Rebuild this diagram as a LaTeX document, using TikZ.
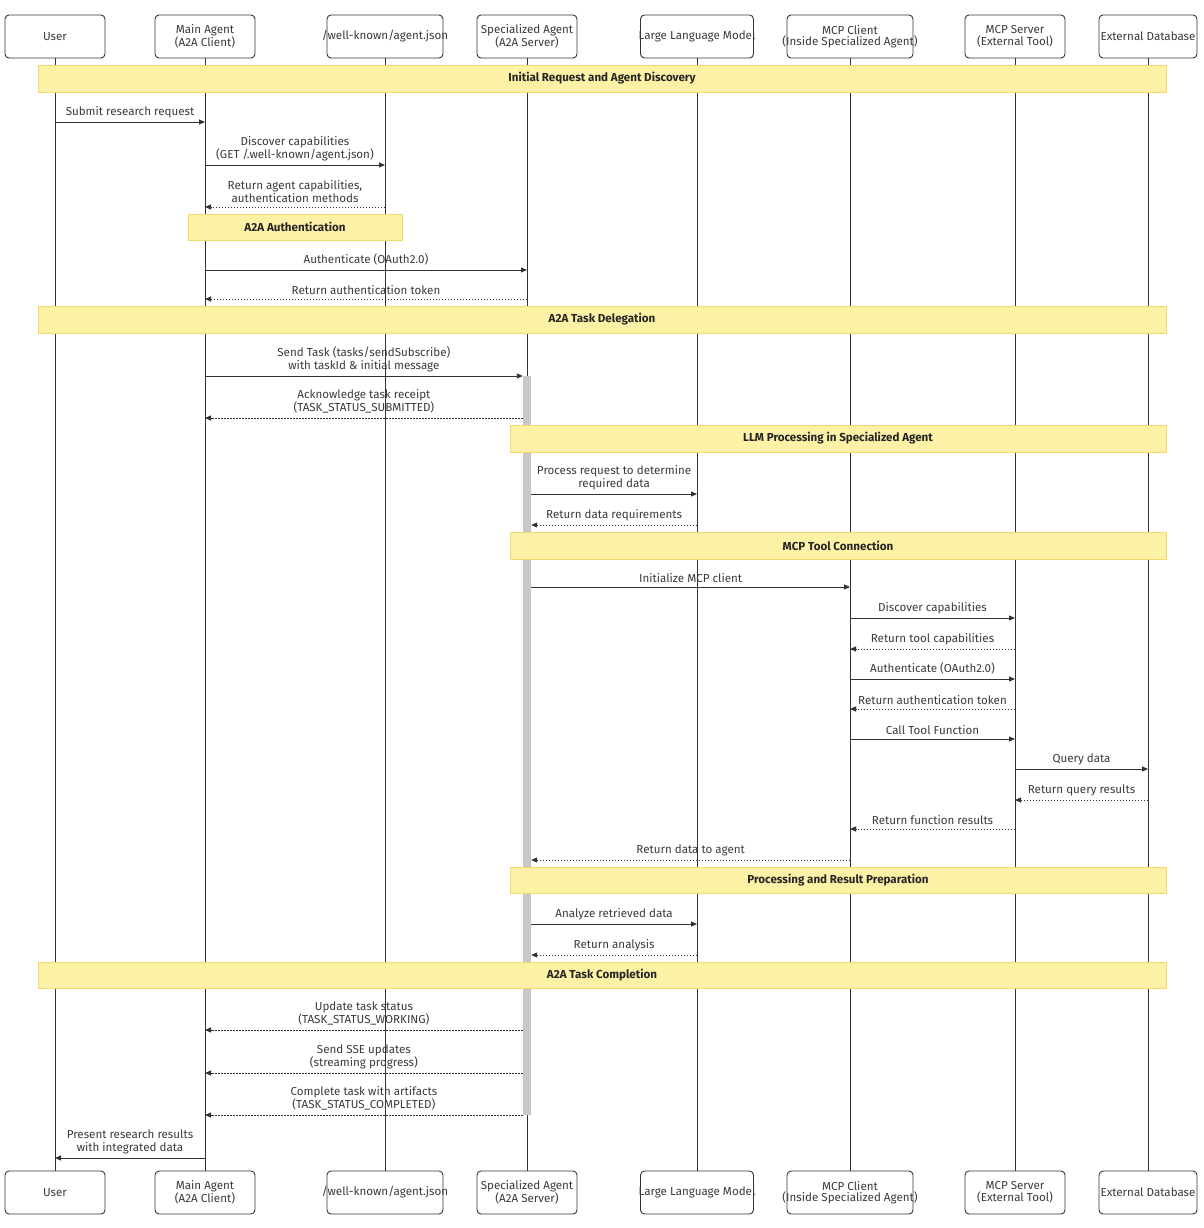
\documentclass[tikz,border=0pt]{standalone}
\usepackage{fontspec}
\setmainfont{Fira Sans}
\usetikzlibrary{arrows.meta,calc}
\definecolor{ln}{HTML}{333333}
\definecolor{txt}{HTML}{3a3a3a}
\definecolor{notefill}{RGB}{253,241,166}
\definecolor{notedraw}{RGB}{242,216,112}
\definecolor{actfill}{RGB}{200,200,200}
\tikzset{
  actor/.style={draw=ln, line width=0.9pt, rounded corners=4pt, fill=white, minimum height=43pt, inner sep=0pt},
  actortext/.style={text=txt, align=center, inner sep=0pt, font=\fontsize{11.6}{11.5}\selectfont},
  life/.style={draw=ln, line width=0.8pt},
  notebar/.style={draw=notedraw, fill=notefill, line width=0.8pt, inner sep=0pt, text=black!85, font=\fontsize{11.6}{12}\selectfont\bfseries},
  actbar/.style={fill=actfill, draw=none, minimum width=8pt, inner sep=0pt},
  msg/.style={draw=ln, line width=0.9pt, -{Triangle[length=6pt,width=5pt]}},
  ret/.style={draw=ln, line width=0.9pt, dash pattern=on 1.5pt off 1.5pt, -{Triangle[length=6pt,width=5pt]}},
  lbl/.style={text=txt, align=center, inner sep=0pt, font=\fontsize{11.6}{13}\selectfont}
}
\newcommand{\sqmsg}[5]{\draw[#1] (#2 |- 0,#4) -- (#3 |- 0,#4) node[lbl, midway, above=4pt]{#5};}
\newcommand{\sqactor}[5]{\node[actor, minimum width=#2, label={[actortext]center:#5}] (#1) at (#3,#4) {};}
\begin{document}
\begin{tikzpicture}[x=1pt,y=-1pt]
\useasboundingbox (0,0) rectangle (1203,1228);
% top actors
\sqactor{u}{100pt}{55}{36.5}{User}
\sqactor{ma}{100pt}{205}{36.5}{Main Agent\\(A2A Client)}
\sqactor{wk}{116pt}{385}{36.5}{/well-known/agent.json}
\sqactor{sp}{100pt}{527}{36.5}{Specialized Agent\\(A2A Server)}
\sqactor{llm}{113pt}{697}{36.5}{Large Language Model}
\sqactor{mc}{126pt}{850}{36.5}{MCP Client\\(Inside Specialized Agent)}
\sqactor{ms}{100pt}{1015}{36.5}{MCP Server\\(External Tool)}
\sqactor{db}{98pt}{1148}{36.5}{External Database}
% bottom actors
\sqactor{u2}{100pt}{55}{1192.5}{User}
\sqactor{ma2}{100pt}{205}{1192.5}{Main Agent\\(A2A Client)}
\sqactor{wk2}{116pt}{385}{1192.5}{/well-known/agent.json}
\sqactor{sp2}{100pt}{527}{1192.5}{Specialized Agent\\(A2A Server)}
\sqactor{llm2}{113pt}{697}{1192.5}{Large Language Model}
\sqactor{mc2}{126pt}{850}{1192.5}{MCP Client\\(Inside Specialized Agent)}
\sqactor{ms2}{100pt}{1015}{1192.5}{MCP Server\\(External Tool)}
\sqactor{db2}{98pt}{1148}{1192.5}{External Database}
% lifelines
\foreach \a in {u,ma,wk,sp,llm,mc,ms,db} {\draw[life] (\a.south) -- (\a2.north);}
% activation
\node[actbar, minimum height=739pt] (act) at (527,745.5) {};
% notes
\node[notebar, minimum width=1128pt, minimum height=27pt] (n1) at (602,78.5) {Initial Request and Agent Discovery};
\node[notebar, minimum width=214pt, minimum height=26pt] (n2) at (295,227) {A2A Authentication};
\node[notebar, minimum width=1128pt, minimum height=27pt] (n3) at (602,319.5) {A2A Task Delegation};
\node[notebar, minimum width=656pt, minimum height=27pt] (n4) at (838,438.5) {LLM Processing in Specialized Agent};
\node[notebar, minimum width=656pt, minimum height=27pt] (n5) at (838,545.5) {MCP Tool Connection};
\node[notebar, minimum width=656pt, minimum height=26pt] (n6) at (838,880) {Processing and Result Preparation};
\node[notebar, minimum width=1128pt, minimum height=26pt] (n7) at (602,975) {A2A Task Completion};
% messages
\sqmsg{msg}{u}{ma}{122}{Submit research request}
\sqmsg{msg}{ma}{wk}{165}{Discover capabilities\\(GET /.well-known/agent.json)}
\sqmsg{ret}{wk}{ma}{207}{Return agent capabilities,\\authentication methods}
\sqmsg{msg}{ma}{sp}{270}{Authenticate (OAuth2.0)}
\sqmsg{ret}{sp}{ma}{299}{Return authentication token}
\sqmsg{msg}{ma}{act.west}{376}{Send Task (tasks/sendSubscribe)\\with taskId \& initial message}
\sqmsg{ret}{act.west}{ma}{418}{Acknowledge task receipt\\(TASK\_STATUS\_SUBMITTED)}
\sqmsg{msg}{act.east}{llm}{494}{Process request to determine\\required data}
\sqmsg{ret}{llm}{act.east}{525}{Return data requirements}
\sqmsg{msg}{act.east}{mc}{587}{Initialize MCP client}
\sqmsg{msg}{mc}{ms}{618}{Discover capabilities}
\sqmsg{ret}{ms}{mc}{649}{Return tool capabilities}
\sqmsg{msg}{mc}{ms}{679}{Authenticate (OAuth2.0)}
\sqmsg{ret}{ms}{mc}{709}{Return authentication token}
\sqmsg{msg}{mc}{ms}{739}{Call Tool Function}
\sqmsg{msg}{ms}{db}{769}{Query data}
\sqmsg{ret}{db}{ms}{800}{Return query results}
\sqmsg{ret}{ms}{mc}{829}{Return function results}
\sqmsg{ret}{mc}{act.east}{860}{Return data to agent}
\sqmsg{msg}{act.east}{llm}{924}{Analyze retrieved data}
\sqmsg{ret}{llm}{act.east}{955}{Return analysis}
\sqmsg{ret}{act.west}{ma}{1030}{Update task status\\(TASK\_STATUS\_WORKING)}
\sqmsg{ret}{act.west}{ma}{1073}{Send SSE updates\\(streaming progress)}
\sqmsg{ret}{act.west}{ma}{1115}{Complete task with artifacts\\(TASK\_STATUS\_COMPLETED)}
\sqmsg{msg}{ma}{u}{1158}{Present research results\\with integrated data}
\end{tikzpicture}
\end{document}
